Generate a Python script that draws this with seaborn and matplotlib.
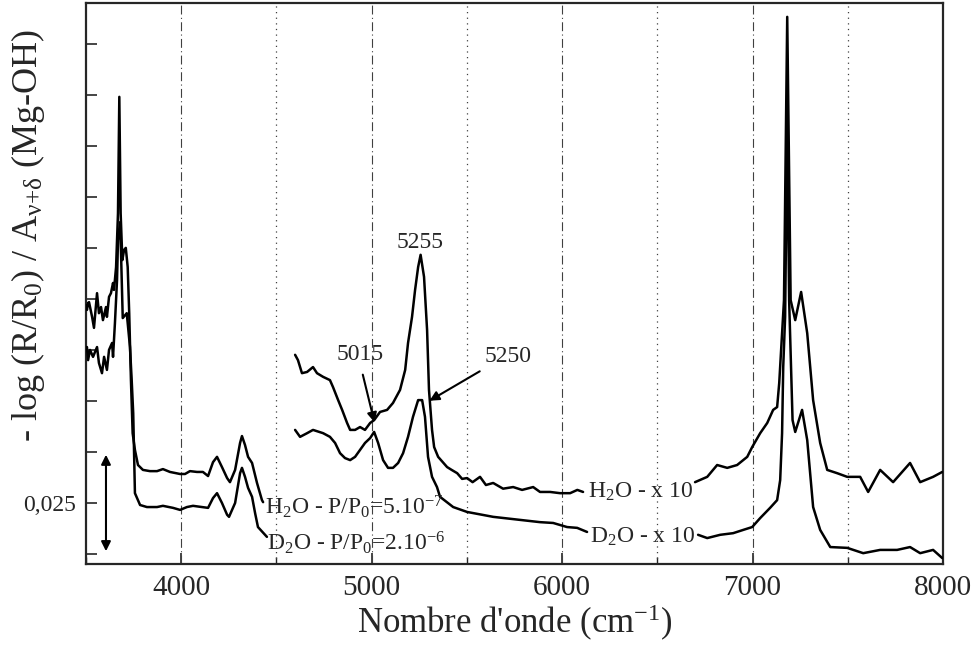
import matplotlib
matplotlib.use('Agg')
import numpy as np
import pandas as pd
import seaborn as sns
from matplotlib import pyplot as plt
from matplotlib.ticker import MultipleLocator

# spectra: wavenumber (cm-1) / normalised absorbance
H2O_WN_1 = [3500, 3505, 3511, 3516, 3532, 3542, 3558, 3568, 3579, 3589, 3605, 3610, 3621, 3631, 3642, 3647,
            3658, 3668, 3675, 3682, 3691, 3700, 3709, 3719, 3727, 3736, 3745, 3757, 3773, 3799, 3836, 3873,
            3904, 3941, 3994, 4020, 4046, 4083, 4114, 4141, 4167, 4188, 4214, 4241, 4256, 4283, 4309, 4319,
            4335, 4351, 4372, 4398, 4424, 4430]
H2O_A_1 = [0.0610, 0.0598, 0.0615, 0.0617, 0.0581, 0.0554, 0.0639, 0.0590, 0.0605, 0.0573, 0.0605, 0.0581,
           0.0630, 0.0639, 0.0664, 0.0647, 0.0703, 0.0835, 0.1120, 0.0835, 0.0720, 0.0745, 0.0750, 0.0703,
           0.0590, 0.0426, 0.0296, 0.0255, 0.0218, 0.0206, 0.0203, 0.0203, 0.0208, 0.0201, 0.0196, 0.0196,
           0.0203, 0.0201, 0.0201, 0.0191, 0.0225, 0.0238, 0.0213, 0.0186, 0.0176, 0.0206, 0.0272, 0.0289,
           0.0267, 0.0238, 0.0223, 0.0174, 0.0132, 0.0127]

D2O_WN_1 = [3500, 3505, 3511, 3521, 3537, 3558, 3568, 3584, 3595, 3610, 3621, 3637, 3642, 3652, 3663, 3668,
            3679, 3684, 3693, 3714, 3731, 3740, 3748, 3757, 3784, 3820, 3873, 3904, 3957, 3994, 4030, 4062,
            4109, 4141, 4167, 4188, 4214, 4241, 4251, 4283, 4309, 4319, 4335, 4351, 4372, 4388, 4403, 4450]
D2O_A_1 = [0.0500, 0.0507, 0.0475, 0.0500, 0.0483, 0.0507, 0.0468, 0.0443, 0.0483, 0.0451, 0.0500, 0.0517,
           0.0483, 0.0566, 0.0671, 0.0769, 0.0813, 0.0737, 0.0578, 0.0590, 0.0507, 0.0426, 0.0345, 0.0149,
           0.0120, 0.0115, 0.0115, 0.0118, 0.0113, 0.0108, 0.0115, 0.0118, 0.0115, 0.0113, 0.0137, 0.0149,
           0.0125, 0.0096, 0.0091, 0.0125, 0.0198, 0.0211, 0.0189, 0.0162, 0.0140, 0.0100, 0.0066, 0.0042]

# x10 parts (split where the labels sit)
H2O_WN_2A = [4598, 4613, 4634, 4661, 4692, 4713, 4745, 4781, 4797, 4824, 4845, 4871, 4887, 4913, 4939, 4965,
             4992, 5013, 5044, 5081, 5112, 5149, 5176, 5191, 5212, 5228, 5244, 5257, 5275, 5291, 5301, 5317,
             5328, 5349, 5396, 5420, 5449, 5475, 5501, 5530, 5569, 5600, 5638, 5690, 5743, 5790, 5848, 5884,
             5937, 5989, 6042, 6080, 6110]
H2O_A_2A = [0.0488, 0.0475, 0.0443, 0.0446, 0.0458, 0.0443, 0.0434, 0.0426, 0.0409, 0.0377, 0.0353, 0.0321,
            0.0304, 0.0304, 0.0311, 0.0304, 0.0321, 0.0328, 0.0348, 0.0353, 0.0370, 0.0402, 0.0451, 0.0517,
            0.0581, 0.0647, 0.0703, 0.0733, 0.0679, 0.0549, 0.0402, 0.0304, 0.0262, 0.0238, 0.0213, 0.0206,
            0.0198, 0.0184, 0.0186, 0.0176, 0.0189, 0.0169, 0.0174, 0.0160, 0.0164, 0.0157, 0.0164, 0.0152,
            0.0152, 0.0149, 0.0149, 0.0157, 0.0152]
H2O_WN_2B = [6698, 6762, 6814, 6867, 6919, 6972, 6998, 7040, 7077, 7108, 7129, 7140, 7155, 7165, 7182, 7200,
             7224, 7255, 7287, 7318, 7355, 7392, 7444, 7497, 7565, 7607, 7670, 7738, 7827, 7880, 7948, 7996]
H2O_A_2B = [0.0176, 0.0189, 0.0218, 0.0211, 0.0218, 0.0238, 0.0262, 0.0296, 0.0321, 0.0353, 0.0360, 0.0419,
            0.0541, 0.0622, 0.1316, 0.0622, 0.0573, 0.0642, 0.0541, 0.0377, 0.0272, 0.0206, 0.0198, 0.0189,
            0.0189, 0.0152, 0.0206, 0.0176, 0.0223, 0.0176, 0.0189, 0.0201]

D2O_WN_2A = [4598, 4624, 4661, 4692, 4745, 4781, 4808, 4834, 4860, 4887, 4913, 4939, 4965, 4992, 5013, 5034,
             5060, 5086, 5112, 5139, 5165, 5191, 5217, 5244, 5265, 5280, 5296, 5317, 5343, 5359, 5428, 5501,
             5638, 5884, 5953, 6026, 6079, 6131]
D2O_A_2A = [0.0304, 0.0287, 0.0296, 0.0304, 0.0296, 0.0287, 0.0272, 0.0247, 0.0235, 0.0230, 0.0238, 0.0255,
            0.0272, 0.0284, 0.0299, 0.0272, 0.0230, 0.0211, 0.0211, 0.0223, 0.0247, 0.0287, 0.0336, 0.0377,
            0.0377, 0.0336, 0.0238, 0.0189, 0.0164, 0.0140, 0.0115, 0.0103, 0.0091, 0.0078, 0.0076, 0.0066,
            0.0064, 0.0054]
D2O_WN_2B = [6714, 6762, 6830, 6898, 6951, 6998, 7040, 7092, 7129, 7145, 7155, 7161, 7171, 7182, 7192, 7210,
             7224, 7260, 7287, 7318, 7355, 7408, 7497, 7581, 7670, 7759, 7827, 7880, 7948, 7996]
D2O_A_2B = [0.0047, 0.0039, 0.0047, 0.0051, 0.0059, 0.0066, 0.0088, 0.0113, 0.0132, 0.0181, 0.0296, 0.0458,
            0.0581, 0.1058, 0.0622, 0.0328, 0.0299, 0.0353, 0.0279, 0.0115, 0.0059, 0.0017, 0.0015, 0.0002,
            0.0010, 0.0010, 0.0017, 0.0002, 0.0010, -0.0010]

DASHDOT_LINES = [4000, 5000, 6000, 7000]
DOTTED_LINES = [4500, 5500, 6500, 7500]
SCALE_BAR = 0.025

sns.set_style('ticks')
plt.rcParams['font.family'] = ['Liberation Serif', 'DejaVu Serif']
plt.rcParams['mathtext.fontset'] = 'custom'
plt.rcParams['mathtext.rm'] = 'Liberation Serif'
plt.rcParams['mathtext.it'] = 'Liberation Serif:italic'
plt.rcParams['xtick.direction'] = 'in'
plt.rcParams['ytick.direction'] = 'in'

segments = [('h2o_1', H2O_WN_1, H2O_A_1), ('d2o_1', D2O_WN_1, D2O_A_1),
            ('h2o_2a', H2O_WN_2A, H2O_A_2A), ('h2o_2b', H2O_WN_2B, H2O_A_2B),
            ('d2o_2a', D2O_WN_2A, D2O_A_2A), ('d2o_2b', D2O_WN_2B, D2O_A_2B)]
df = pd.concat([pd.DataFrame({'seg': name, 'wn': wn, 'a': a}) for name, wn, a in segments])

fig = plt.figure(figsize=(9.76, 6.47), dpi=100)
ax = fig.add_axes([0.0881, 0.1283, 0.8781, 0.8671])

for x in DASHDOT_LINES:
    ax.axvline(x, color='0.25', lw=0.8, ls=(0, (8, 3, 1, 3)), zorder=1)
for x in DOTTED_LINES:
    ax.axvline(x, color='0.25', lw=0.9, ls=(0, (1, 3.5)), zorder=1)

for name, _, _ in segments:
    sns.lineplot(data=df[df['seg'] == name], x='wn', y='a', sort=False, estimator=None,
                 color='black', lw=1.8, ax=ax, zorder=3)

ax.set_xlim(3500, 8000)
ax.set_ylim(-0.00245, 0.135)
ax.xaxis.set_major_locator(MultipleLocator(1000))
ax.xaxis.set_minor_locator(MultipleLocator(500))
yticks = np.arange(0, 0.126, 0.0125)
ax.set_yticks(yticks)
ax.set_yticklabels(['0,025' if abs(v - 0.0125) < 1e-6 else '' for v in yticks])
ax.tick_params(axis='x', which='major', length=8, width=1.2, labelsize=21, pad=8)
ax.tick_params(axis='x', which='minor', length=5, width=1.0)
ax.tick_params(axis='y', length=8, width=1.2, labelsize=17, pad=7)
for sp in ax.spines.values():
    sp.set_linewidth(1.6)

ax.set_xlabel("Nombre d'onde (cm$^{-1}$)", fontsize=25, labelpad=1)
ax.set_ylabel('- log (R/R$_0$) / A$_{\\mathrm{ν{+}δ}}$ (Mg-OH)', fontsize=26)
ax.yaxis.set_label_coords(-0.045, 0.586)

# scale bar
ax.annotate('', xy=(3605, 0.0), xytext=(3605, SCALE_BAR),
            arrowprops=dict(arrowstyle='<|-|>', color='black', lw=1.5, mutation_scale=14))

# peak annotations
ax.text(5254, 0.0738, '5255', fontsize=17, ha='center', va='bottom')
ax.text(4939, 0.0488, '5015', fontsize=17, ha='center', va='center')
ax.annotate('', xy=(5018, 0.0316), xytext=(4950, 0.0446),
            arrowprops=dict(arrowstyle='-|>', color='black', lw=1.5, mutation_scale=14))
ax.text(5716, 0.0483, '5250', fontsize=17, ha='center', va='center')
ax.annotate('', xy=(5291, 0.0372), xytext=(5580, 0.0451),
            arrowprops=dict(arrowstyle='-|>', color='black', lw=1.5, mutation_scale=14))

# curve labels
ax.text(4440, 0.0115, 'H$_2$O - P/P$_0$=5.10$^{-7}$', fontsize=17, ha='left', va='center')
ax.text(4451, 0.0027, 'D$_2$O - P/P$_0$=2.10$^{-6}$', fontsize=17, ha='left', va='center')
ax.text(6136, 0.0152, 'H$_2$O - x 10', fontsize=17, ha='left', va='center')
ax.text(6147, 0.0042, 'D$_2$O - x 10', fontsize=17, ha='left', va='center')

fig.savefig('out.png', dpi=100)
